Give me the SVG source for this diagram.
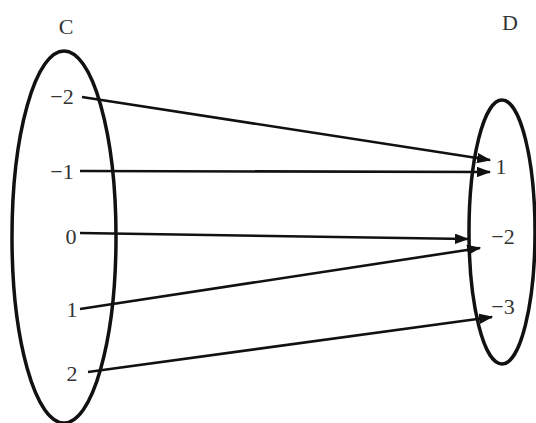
<svg xmlns="http://www.w3.org/2000/svg" width="536" height="423" viewBox="0 0 536 423">
<style>
.set{fill:none;stroke:#111;stroke-width:3.5}
.lbl{font-family:"Liberation Serif",serif;font-size:22px;fill:#333;text-anchor:middle}
.edge{stroke:#111;stroke-width:2.6;fill:none;marker-end:url(#ah)}
</style>
<defs>
<marker id="ah" markerWidth="5.5" markerHeight="4" refX="5" refY="2" orient="auto" markerUnits="strokeWidth">
<path d="M0,0 L5.5,2 L0,4 z" fill="#111"/>
</marker>
</defs>
<rect width="536" height="423" fill="#fff"/>
<g id="setC">
<ellipse class="set" cx="64" cy="237" rx="52" ry="186"/>
<text class="lbl" x="66" y="34">C</text>
</g>
<g id="setD">
<ellipse class="set" cx="502" cy="232" rx="33" ry="132"/>
<text class="lbl" x="510" y="30">D</text>
</g>
<g id="c-2"><text class="lbl" x="62" y="104">−2</text></g>
<g id="c-1"><text class="lbl" x="62" y="179">−1</text></g>
<g id="c0"><text class="lbl" x="71" y="244">0</text></g>
<g id="c1"><text class="lbl" x="72" y="317">1</text></g>
<g id="c2"><text class="lbl" x="72" y="381">2</text></g>
<g id="d1"><text class="lbl" x="501" y="174">1</text></g>
<g id="d-2"><text class="lbl" x="503" y="244">−2</text></g>
<g id="d-3"><text class="lbl" x="503" y="314">−3</text></g>
<g id="connectors">
<line class="edge" x1="82" y1="97" x2="490" y2="160"/>
<line class="edge" x1="80" y1="171" x2="490" y2="172"/>
<line class="edge" x1="80" y1="233" x2="468" y2="239"/>
<line class="edge" x1="80" y1="309" x2="480" y2="248"/>
<line class="edge" x1="88" y1="372" x2="492" y2="317"/>
</g>
</svg>
